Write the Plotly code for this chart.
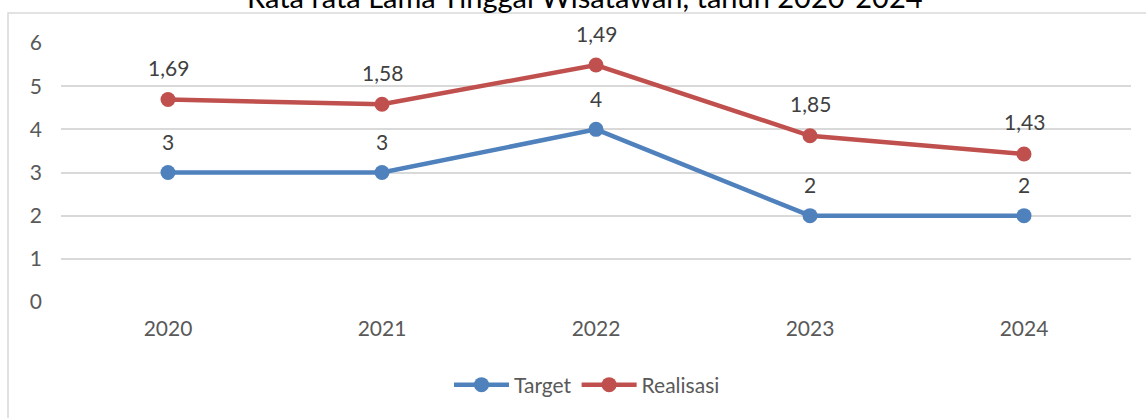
import plotly.graph_objects as go

# Data
years = ["2020", "2021", "2022", "2023", "2024"]
target = [3, 3, 4, 2, 2]
realisasi = [1.69, 1.58, 1.49, 1.85, 1.43]
y_ticks = [0, 1, 2, 3, 4, 5, 6]

title_text = "Rata rata Lama Tinggal Wisatawan, tahun 2020-2024"

BLUE = "#4F81BD"
RED = "#C0504D"
GRID = "#D9D9D9"
FONT = "Lato"

# Realisasi is stacked on top of Target (stacked line chart)
realisasi_stacked = [t + r for t, r in zip(target, realisasi)]

W, H = 1146, 418
L, R, T, B = 61, 15, 43, 116
pw, ph = W - L - R, H - T - B


def px_x(x):
    return (x - L) / pw


def px_y(y):
    return (H - B - y) / ph


fig = go.Figure()
fig.add_trace(go.Scatter(
    x=years, y=target, name="Target", mode="lines+markers",
    line=dict(color=BLUE, width=4.5), marker=dict(size=15, color=BLUE),
))
fig.add_trace(go.Scatter(
    x=years, y=realisasi_stacked, name="Realisasi", mode="lines+markers",
    line=dict(color=RED, width=4.5), marker=dict(size=15, color=RED),
))


def fmt(v):
    return f"{v:g}".replace(".", ",")


label_font = dict(family=FONT, size=21, color="#404040")
annotations = []
# category positions are referenced by index on the category axis
for i, t in enumerate(target):
    annotations.append(dict(x=i, y=t, xref="x", yref="y", text=fmt(t),
                            showarrow=False, yshift=31, font=label_font))
for i, (r, ys) in enumerate(zip(realisasi, realisasi_stacked)):
    annotations.append(dict(x=i, y=ys, xref="x", yref="y", text=fmt(r),
                            showarrow=False, yshift=32, font=label_font))

annotations.append(dict(
    xref="paper", yref="paper", x=px_x(585), y=px_y(-3), text=title_text,
    showarrow=False, xanchor="center", yanchor="middle",
    font=dict(family=FONT, size=29, color="#000000"),
))

fig.update_layout(
    width=W, height=H,
    margin=dict(l=L, r=R, t=T, b=B),
    paper_bgcolor="white", plot_bgcolor="white",
    font=dict(family=FONT, size=21, color="#595959"),
    showlegend=True,
    legend=dict(orientation="h", x=px_x(587), xanchor="center",
                y=px_y(385), yanchor="middle",
                font=dict(family=FONT, size=21, color="#595959"),
                itemwidth=55, bgcolor="rgba(0,0,0,0)"),
    annotations=annotations,
    shapes=[dict(type="rect", xref="paper", yref="paper",
                 x0=px_x(8), x1=px_x(1160), y0=px_y(440), y1=px_y(13),
                 line=dict(color=GRID, width=1.5), layer="below")],
    xaxis=dict(type="category", range=[-0.5, 4.5], showgrid=False,
               showline=False, zeroline=False, ticks="", ticklabelstandoff=12,
               tickfont=dict(family=FONT, size=21, color="#595959")),
    yaxis=dict(range=[0, 6], tickvals=y_ticks, showgrid=True, gridcolor=GRID,
               gridwidth=1.5, zeroline=False, showline=False, ticks="",
               ticklabelstandoff=18,
               tickfont=dict(family=FONT, size=21, color="#595959")),
)

fig.write_html("out.html")
